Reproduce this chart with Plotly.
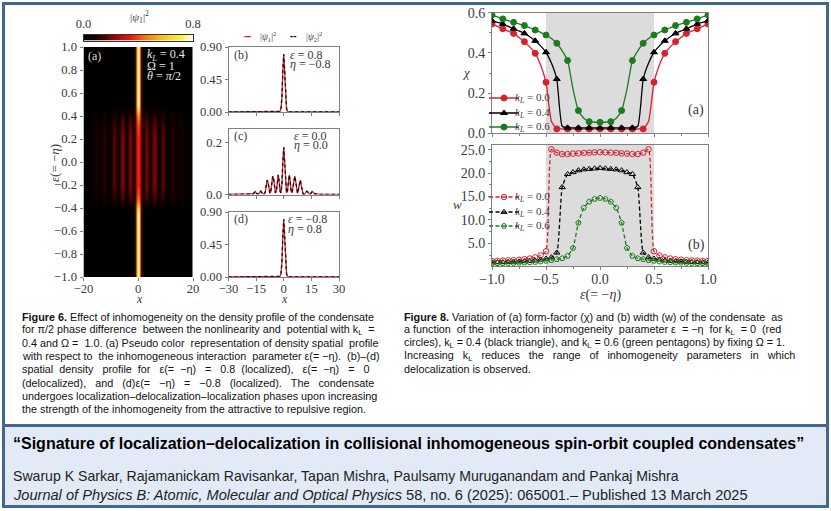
import plotly.graph_objects as go

W, H = 831, 511

x_half = [0, .5, 1, 1.5, 2, 2.5, 3, 3.5, 4, 4.5, 5, 5.5, 6, 6.5, 7, 7.5, 8, 8.5, 9, 9.5, 10,
          10.5, 11, 11.5, 12, 12.5, 13, 13.5, 14, 14.5, 15, 15.5, 16, 16.5, 17, 17.5, 18, 18.5, 19, 19.5, 20, 30]
deloc_half = [.18, .125, .04, .006, .012, .05, .075, .05, .012, .006, .03, .06, .07, .05, .012, .004, .02, .045, .055, .035, .01,
              .002, .001, .002, .008, .013, .01, .003, .001, .002, .006, .012, .009, .003, .001, .002, .003, .002, .001, 0, 0, 0]
loc_half = [.80, .56, .20, .05, .01, .002, 0, 0, 0, 0, 0, 0, 0, 0, 0, 0, 0, 0, 0, 0, 0,
            0, 0, 0, 0, 0, 0, 0, 0, 0, 0, 0, 0, 0, 0, 0, 0, 0, 0, 0, 0, 0]

# ---------- pseudo-colour map (a) ----------
map_stripes_half = [.37, .31, .2, .1, .09, .16, .21, .16, .08, .07, .13, .18, .2, .15, .07, .05, .1, .15, .17, .12, .05,
                    .03, .03, .05, .1, .12, .09, .04, .02, .04, .07, .09, .07, .03, .01, .02, .03, .02, .01, 0, 0, 0]
eps_rows = [-1, -.9, -.8, -.7, -.6, -.5, -.45, -.4, -.35, -.3, -.25, -.2, -.1, 0, .1, .2, .25, .3, .35, .4, .45, .5, .6, .7, .8, .9, 1]
deloc_weight = [0, 0, 0, 0, 0, 0, .0, .18, .62, .8, .9, 1, 1, 1, 1, 1, .95, .9, .8, .62, .25, 0, 0, 0, 0, 0, 0]
colorbar_levels = [0, .1, .2, .3, .4, .5, .6, .7, .8]

# ---------- form factor chi, half range then mirrored ----------
eps_half = [-1, -.95, -.9, -.85, -.8, -.75, -.7, -.65, -.6, -.55, -.5, -.45, -.4, -.35, -.3, -.25, -.2, -.15, -.1, -.05, 0]
chi_k0 = [.544, .532, .52, .508, .497, .477, .456, .43, .398, .34, .254, .06, .022, .022, .022, .022, .022, .022, .022, .022, .022]
chi_k4 = [.56, .552, .544, .532, .52, .509, .497, .48, .46, .435, .403, .35, .27, .035, .027, .027, .027, .027, .027, .027, .027]
chi_k6 = [.589, .579, .569, .56, .552, .544, .536, .525, .514, .502, .489, .472, .448, .41, .362, .22, .113, .075, .058, .055, .055]

# ---------- width w ----------
w_k0 = [1.2, 1.25, 1.3, 1.35, 1.4, 1.5, 1.6, 1.75, 2.0, 2.4, 3.3, 25.1, 24.4, 24.1, 24.1, 24.2, 24.25, 24.35, 24.4, 24.45, 24.5]
w_k4 = [.9, .92, .95, 1.0, 1.05, 1.1, 1.15, 1.2, 1.3, 1.5, 1.7, 2.0, 3.0, 17.0, 19.8, 20.2, 20.6, 20.8, 20.9, 21.0, 21.1]
w_k6 = [.7, .72, .75, .78, .8, .85, .88, .92, 1.0, 1.1, 1.25, 1.4, 1.6, 1.8, 2.3, 4.0, 9.4, 12.6, 13.9, 14.5, 14.7]

k_labels = ["0.0", "0.4", "0.6"]

# ---------- texts ----------
fig6_lines = [
    "<b>Figure 6.</b> Effect of inhomogeneity on the density profile of the condensate",
    "for π/2 phase difference between the nonlinearity and potential with k<sub>L</sub> =",
    "0.4 and Ω = 1.0. (a) Pseudo color representation of density spatial profile",
    "with respect to the inhomogeneous interaction parameter ε(= −η). (b)–(d)",
    "spatial density profile for ε(= −η) = 0.8 (localized), ε(= −η) = 0",
    "(delocalized), and (d)ε(= −η) = −0.8 (localized). The condensate",
    "undergoes localization–delocalization–localization phases upon increasing",
    "the strength of the inhomogeneity from the attractive to repulsive region.",
]
fig8_lines = [
    "<b>Figure 8.</b> Variation of (a) form-factor (χ) and (b) width (w) of the condensate as",
    "a function of the interaction inhomogeneity parameter ε = −η for k<sub>L</sub> = 0 (red",
    "circles), k<sub>L</sub> = 0.4 (black triangle), and k<sub>L</sub> = 0.6 (green pentagons) by fixing Ω = 1.",
    "Increasing k<sub>L</sub> reduces the range of inhomogeneity parameters in which",
    "delocalization is observed.",
]
title_text = "“Signature of localization–delocalization in collisional inhomogeneous spin-orbit coupled condensates”"
authors_text = "Swarup K Sarkar, Rajamanickam Ravisankar, Tapan Mishra, Paulsamy Muruganandam and Pankaj Mishra"
journal_text = "<i>Journal of Physics B: Atomic, Molecular and Optical Physics</i> 58, no. 6 (2025): 065001.– Published 13 March 2025"

# extra non-breaking spaces per caption line, to imitate justified text
fig6_extra = [0, 3, 3, 3, 19, 16, 0, 0]
fig8_extra = [1, 7, 0, 18, 0]

def justify(line, extra):
    parts = line.split(" ")
    gaps = len(parts) - 1
    out = parts[0]
    for i in range(gaps):
        n = 1 + (extra * (i + 1)) // gaps - (extra * i) // gaps
        out += "\u00a0" * n + parts[i + 1]
    return out

# ---------- derived (mirroring the tables) ----------
x_full = [-v for v in x_half[:0:-1]] + x_half
deloc = deloc_half[:0:-1] + deloc_half
loc = loc_half[:0:-1] + loc_half
stripes = map_stripes_half[:0:-1] + map_stripes_half
def mirror(a):
    return a + a[-2::-1]
eps_full = eps_half + [-v for v in eps_half[-2::-1]]
heat = [[w * d + (1 - w) * l for d, l in zip(stripes, loc)] for w in deloc_weight]

SERIF = "Liberation Serif"
SANS = "Liberation Sans"
INK = "#3a3a3a"
FRAME = "#808080"
BLUE = "#44688c"
RED, BLACK, GREEN = "#d8202f", "#000000", "#1c7c1c"
HOT = [[0, "#000000"], [.12, "#1a0000"], [.27, "#8c0808"], [.42, "#e01a10"], [.57, "#f87a10"],
       [.72, "#fcc020"], [.88, "#fcf040"], [1, "#ffffff"]]

def dom_x(a, b):
    return [a / W, b / W]
def dom_y(top, bottom):
    return [1 - bottom / H, 1 - top / H]

fig = go.Figure()
layout = {}

def axis_style(**kw):
    d = dict(showgrid=False, zeroline=False, showline=True, linecolor=FRAME, linewidth=1, mirror=True,
             ticks="outside", ticklen=3, tickwidth=1, tickcolor=FRAME,
             tickfont=dict(family=SERIF, size=12.6, color=INK))
    d.update(kw)
    return d

# colourbar drawn as its own small map
fig.add_trace(go.Heatmap(x=colorbar_levels, y=[0, 1], z=[colorbar_levels, colorbar_levels], colorscale=HOT,
                         zmin=0, zmax=.8, showscale=False, zsmooth="best", xaxis="x", yaxis="y", hoverinfo="skip"))
layout["xaxis"] = axis_style(domain=dom_x(83.5, 193), anchor="y", side="top", range=[0, .8], tickvals=[0, .8],
                             ticktext=["0.0", "0.8"], ticks="", linecolor="#333333")
layout["yaxis"] = axis_style(domain=dom_y(34.5, 40.5), anchor="x", range=[0, 1], showticklabels=False, ticks="", linecolor="#333333")

# heat map (a)
fig.add_trace(go.Heatmap(x=x_full, y=eps_rows, z=heat, colorscale=HOT, zmin=0, zmax=.8, showscale=False,
                         zsmooth="best", xaxis="x2", yaxis="y2", hoverinfo="skip"))
layout["xaxis2"] = axis_style(domain=dom_x(83.5, 193), anchor="y2", range=[-20, 20], tickvals=[-20, 0, 20], mirror=False, showline=False,
                              ticklabelstandoff=-3)
layout["yaxis2"] = axis_style(domain=dom_y(47, 277), anchor="x2", range=[-1, 1], dtick=.2, tickformat=".1f", mirror=False, showline=False)

# line panels (b), (c), (d)
panels = [("x3", "y3", 47, 112, [0, .9], [0, .45, .9], ".2f", loc, False),
          ("x4", "y4", 129, 194.5, [0, .25], [0, .2], ".1f", deloc, False),
          ("x5", "y5", 212, 277, [0, .9], [0, .45, .9], ".2f", loc, True)]
for i, (xa, ya, top, bottom, yr, yt, fmt, prof, lab) in enumerate(panels):
    fig.add_trace(go.Scatter(x=x_full, y=prof, mode="lines", line=dict(color=RED, width=1.3), xaxis=xa, yaxis=ya,
                             showlegend=False, hoverinfo="skip"))
    fig.add_trace(go.Scatter(x=x_full, y=prof, mode="lines", line=dict(color="#111111", width=1.3, dash="3px,3px"), xaxis=xa, yaxis=ya,
                             showlegend=False, hoverinfo="skip"))
    layout["xaxis" + xa[1:]] = axis_style(domain=dom_x(228.5, 339), anchor=ya, range=[-30, 30], tickvals=[-30, -15, 0, 15, 30],
                                          showticklabels=lab, ticklabelstandoff=-3)
    layout["yaxis" + ya[1:]] = axis_style(domain=dom_y(top, bottom), anchor=xa, range=yr, tickvals=yt, tickformat=fmt)

LEG = dict(bgcolor="rgba(0,0,0,0)", borderwidth=0, itemwidth=30, xanchor="left", yanchor="middle",
           font=dict(family=SERIF, size=10.5, color=INK))
legends = {}
key_notes = []

# right panels
right = [("x6", "y6", [chi_k0, chi_k4, chi_k6], "solid", False, [98, 113, 127], 1),
         ("x7", "y7", [w_k0, w_k4, w_k6], "4px,2.5px", True, [197, 212, 226], 4)]
for xa, ya, ser, dash, hollow, leg_y, leg_no in right:
    step = 1 if hollow else 2
    for j, (vals, col, sym, kl) in enumerate(zip(ser, [RED, BLACK, GREEN], ["circle", "triangle-up", "pentagon" if hollow else "circle"], k_labels)):
        full = mirror(vals)
        marker = dict(symbol=sym, size=5.5 if hollow else 6, color="rgba(0,0,0,0)" if hollow else col,
                      line=dict(color=col, width=1))
        fig.add_trace(go.Scatter(x=eps_full, y=full, mode="lines", line=dict(color=col, width=1.3, dash=dash, shape="spline", smoothing=.5),
                                 xaxis=xa, yaxis=ya, showlegend=False, hoverinfo="skip"))
        fig.add_trace(go.Scatter(x=eps_full[::step], y=full[::step], mode="markers", marker=marker,
                                 xaxis=xa, yaxis=ya, showlegend=False, hoverinfo="skip"))
        no = leg_no + j
        key = "legend" if no == 1 else f"legend{no}"
        fig.add_trace(go.Scatter(x=[None], y=[None], mode="lines+markers", line=dict(color=col, width=1.3, dash=dash), marker=marker,
                                 xaxis=xa, yaxis=ya, name=" ", legend=key, hoverinfo="skip"))
        legends[key] = dict(x=484 / W, y=1 - leg_y[j] / H, **LEG)
        key_notes.append((514, leg_y[j], f"<i>k<sub>L</sub></i> = {kl}"))

MINOR = dict(ticks="outside", ticklen=2, tickcolor=FRAME, tickwidth=1)
layout["xaxis6"] = axis_style(domain=dom_x(492, 708), anchor="y6", range=[-1, 1], dtick=.5, showticklabels=False,
                              minor=dict(dtick=.25, **MINOR))
layout["yaxis6"] = axis_style(domain=dom_y(12.7, 133.3), anchor="x6", range=[0, .6], dtick=.2, tickformat=".1f",
                              minor=dict(dtick=.1, **MINOR), tickfont=dict(family=SERIF, size=14, color=INK))
layout["xaxis7"] = axis_style(domain=dom_x(492, 708), anchor="y7", range=[-1, 1], tickvals=[-1, -.5, 0, .5, 1], tickformat=".1f",
                              minor=dict(dtick=.25, **MINOR), tickfont=dict(family=SERIF, size=14, color=INK), ticklabelstandoff=-3)
layout["yaxis7"] = axis_style(domain=dom_y(144.7, 266), anchor="x7", range=[.15, 26.1], tickvals=[5, 10, 15, 20, 25], tickformat=".1f",
                              minor=dict(tickvals=[2.5, 7.5, 12.5, 17.5, 22.5], **MINOR), tickfont=dict(family=SERIF, size=14, color=INK))

shapes = [
    dict(type="rect", xref="x6", yref="y6", x0=-.5, x1=.5, y0=0, y1=.6, fillcolor="#dcdcdc", line_width=0, layer="below"),
    dict(type="rect", xref="x7", yref="y7", x0=-.5, x1=.5, y0=.15, y1=26.1, fillcolor="#dcdcdc", line_width=0, layer="below"),
    dict(type="rect", xref="paper", yref="paper", x0=3.5 / W, x1=827.5 / W, y0=1 - 506.5 / H, y1=1 - 3.5 / H,
         line=dict(color=BLUE, width=3), fillcolor="rgba(0,0,0,0)", layer="above"),
    dict(type="rect", xref="paper", yref="paper", x0=3.5 / W, x1=827.5 / W, y0=1 - 506.5 / H, y1=1 - 425.5 / H,
         line=dict(color=BLUE, width=3), fillcolor="#e3eaf7", layer="below"),
]

def note(px, py, text, size=10.8, family=SANS, color="#111111", anchor="left", **kw):
    return dict(xref="paper", yref="paper", x=px / W, y=1 - py / H, text=text, showarrow=False, xanchor=anchor, yanchor="middle",
                borderpad=0, font=dict(family=family, size=size, color=color), **kw)

notes = [
    note(139, 17, "|<i>ψ</i><sub>1</sub>|<sup>2</sup>", 11, SERIF, INK, "center"),
    note(139, 299, "<i>x</i>", 12, SERIF, INK, "center"),
    note(284, 299, "<i>x</i>", 12, SERIF, INK, "center"),
    note(600, 295, "<i>ε</i>(= −<i>η</i>)", 14, SERIF, INK, "center"),
    note(54, 163, "<i>ε</i>(= −<i>η</i>)", 13, SERIF, INK, "center", textangle=-90),
    note(466, 72, "<i>χ</i>", 13, SERIF, INK, "center"),
    note(457, 204, "<i>w</i>", 13, SERIF, INK, "center"),
    note(87, 56, "(a)", 12, SERIF, "#d8d8d8"),
    note(146, 55, "<i>k<sub>L</sub></i> = 0.4", 12, SERIF, "#e8e8e8"),
    note(146, 66, "Ω = 1", 12, SERIF, "#e8e8e8"),
    note(146, 76, "<i>θ</i> = <i>π</i>/2", 12, SERIF, "#e8e8e8"),
    note(233, 55, "(b)", 12, SERIF, INK),
    note(233, 136, "(c)", 12, SERIF, INK),
    note(233, 219, "(d)", 12, SERIF, INK),
    note(289, 55, "<i>ε</i> = 0.8", 12, SERIF, INK),
    note(289, 64, "<i>η</i> = −0.8", 12, SERIF, INK),
    note(293, 136, "<i>ε</i> = 0.0", 12, SERIF, INK),
    note(293, 145, "<i>η</i> = 0.0", 12, SERIF, INK),
    note(287, 219, "<i>ε</i> = −0.8", 12, SERIF, INK),
    note(287, 229, "<i>η</i> = 0.8", 12, SERIF, INK),
    note(687, 110, "(a)", 14, SERIF, INK),
    note(687, 245, "(b)", 14, SERIF, INK),
    # legend of panels b-d
    note(243, 35, "<b>–</b>", 13, SANS, RED),
    note(259, 36, "|<i>ψ</i><sub>1</sub>|<sup>2</sup>", 9.5, SERIF, INK),
    note(289, 35, "<b>--</b>", 10, SANS, "#111111"),
    note(305, 36, "|<i>ψ</i><sub>2</sub>|<sup>2</sup>", 9.5, SERIF, INK),
]
for px, py, text in key_notes:
    notes.append(note(px, py, text, 11, SERIF, INK))
for i, (line, extra) in enumerate(zip(fig6_lines, fig6_extra)):
    notes.append(note(21, 317 + i * 13.1, justify(line, extra)))
for i, (line, extra) in enumerate(zip(fig8_lines, fig8_extra)):
    notes.append(note(403, 317 + i * 13.0, justify(line, extra)))
notes.append(note(12, 443, "<b>" + title_text + "</b>", 16, SANS, "#000000"))
notes.append(note(12, 476, authors_text, 14.1, SANS, "#222222"))
notes.append(note(12, 495, journal_text, 14.6, SANS, "#222222"))

fig.update_layout(
    width=W, height=H, autosize=False, margin=dict(l=0, r=0, t=0, b=0, autoexpand=False),
    paper_bgcolor="#ffffff", plot_bgcolor="#ffffff",
    shapes=shapes, annotations=notes,
    **legends, **layout,
)
fig.write_html("out.html", config=dict(displayModeBar=False),
               post_script="document.body.style.margin='0';")
